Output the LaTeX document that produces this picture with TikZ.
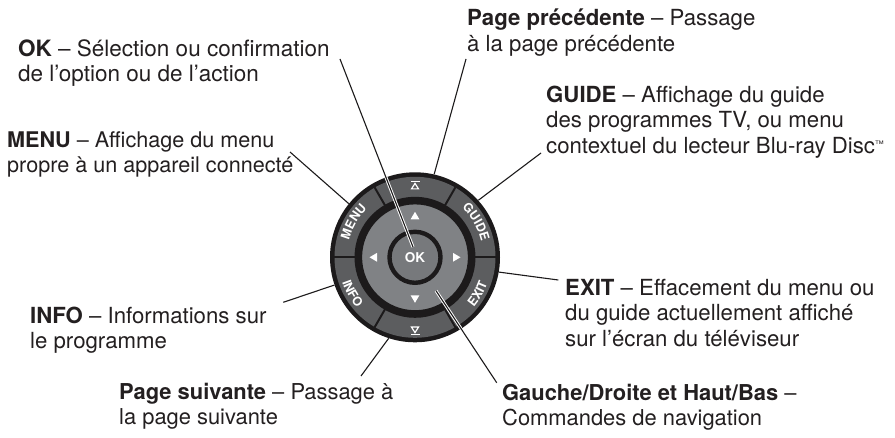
\documentclass[tikz,border=0pt]{standalone}
\usepackage{fontspec}
\setmainfont{TeX Gyre Heros}
\usetikzlibrary{decorations.text}
\definecolor{ringgray}{HTML}{5C5D5F}
\definecolor{padgray}{HTML}{808285}
\definecolor{okgray}{HTML}{77797C}
\definecolor{inkblack}{HTML}{1C1A1B}
\definecolor{textblack}{HTML}{231F20}
\newcommand{\wheelfont}{\fontsize{12.5}{12.5}\selectfont\bfseries\color{white}}
\newcommand{\tmsign}{\raisebox{6pt}{\fontsize{9}{9}\selectfont ™}}
\tikzset{
  caption/.style={anchor=north west, inner sep=0pt, align=left, text=textblack, font=\fontsize{#1}{25.3}\selectfont},
  caption/.default=22.2,
  leader/.style={draw=inkblack, line width=1.1pt},
  halo/.style={draw=white, line width=3pt},
  wheeltext/.style={decorate, decoration={text along path, text align=center, text={|\wheelfont|#1}}}
}
\begin{document}
\begin{tikzpicture}[x=1pt, y=1pt]
  \useasboundingbox (0,0) rectangle (895,437);

  % wheel
  \node[circle, fill=inkblack, inner sep=0pt, minimum size=170pt] (wheel) at (415,179.7) {};
  \fill[ringgray] (wheel) circle (80.5);
  \foreach \a in {0,60,...,300}
    \draw[inkblack, line width=2pt] (wheel) ++(\a:60) -- ++(\a:21);
  \node[circle, fill=padgray, draw=inkblack, line width=7.6pt, inner sep=0pt, minimum size=113.4pt] (pad) at (wheel) {};
  \node[circle, fill=okgray, draw=inkblack, line width=4.4pt, inner sep=0pt, minimum size=51pt,
        text=white, font=\fontsize{13.5}{13.5}\selectfont\bfseries] (okbtn) at (wheel) {OK};
  \foreach \a in {0,90,180,270}
    \fill[white, shift={(415,179.7)}, rotate=\a] (45.5,0) -- (38,4.4) -- (38,-4.4) -- cycle;

  % ring labels
  \path[wheeltext=MENU] (wheel) ++(180:68) arc (180:120:68);
  \path[wheeltext=GUIDE] (wheel) ++(60:68) arc (60:0:68);
  \path[wheeltext=INFO] (wheel) ++(180:77) arc (180:240:77);
  \path[wheeltext=EXIT] (wheel) ++(300:77) arc (300:360:77);

  % page icons
  \fill[white] (410.5,254.6) rectangle (419.5,256.2);
  \draw[white, line width=1.2pt] (415,253.6) -- (411.5,248.1) -- (418.5,248.1) -- cycle;
  \fill[white] (410.5,101.8) rectangle (419.5,103.4);
  \draw[white, line width=1.2pt] (415,104.4) -- (411.5,109.9) -- (418.5,109.9) -- cycle;

  % texts
  \node[caption=22.5] (oktext) at (18,398) {\textbf{OK} – Sélection ou confirmation\\de l’option ou de l’action};
  \node[caption=21.6] (menutext) at (7,306) {\textbf{MENU} – Affichage du menu\\propre à un appareil connecté};
  \node[caption] (uptext) at (467,428) {\textbf{Page précédente} – Passage\\à la page précédente};
  \node[caption] (guidetext) at (546,351) {\textbf{GUIDE} – Affichage du guide\\des programmes TV, ou menu\\contextuel du lecteur Blu-ray Disc\tmsign};
  \node[caption] (exittext) at (565,158) {\textbf{EXIT} – Effacement du menu ou\\du guide actuellement affiché\\sur l’écran du téléviseur};
  \node[caption] (infotext) at (30,130) {\textbf{INFO} – Informations sur\\le programme};
  \node[caption=21.9] (downtext) at (119,54) {\textbf{Page suivante} – Passage à\\la page suivante};
  \node[caption=21.9] (navtext) at (502,53) {\textbf{Gauche/Droite et Haut/Bas} –\\Commandes de navigation};

  \coordinate (okend) at (413,190);
  \coordinate (navend) at (436,146.3);

  % connectors
  \begin{scope}
    \clip (wheel) circle (85);
    \draw[halo] ([shift={(322,-20)}]oktext.north west) -- (okend);
    \draw[halo] ([shift={(-5.3,1.3)}]navtext.north west) -- (navend);
  \end{scope}
  \draw[leader] ([shift={(322,-20)}]oktext.north west) -- (okend);
  \draw[leader] ([shift={(-5.3,1.3)}]navtext.north west) -- (navend);
  \draw[leader] ([shift={(283,-21)}]menutext.north west) -- (wheel.141);
  \draw[leader] ([shift={(-1,-50)}]uptext.north west) -- (wheel.77);
  \draw[leader] ([shift={(-5,-67)}]guidetext.north west) -- (wheel.42);
  \draw[leader] ([shift={(-6.7,-1)}]exittext.north west) -- (wheel.-10);
  \draw[leader] ([shift={(253.3,4.7)}]infotext.north west) -- (wheel.199);
  \draw[leader] ([shift={(242,7)}]downtext.north west) -- (wheel.252);
\end{tikzpicture}
\end{document}
